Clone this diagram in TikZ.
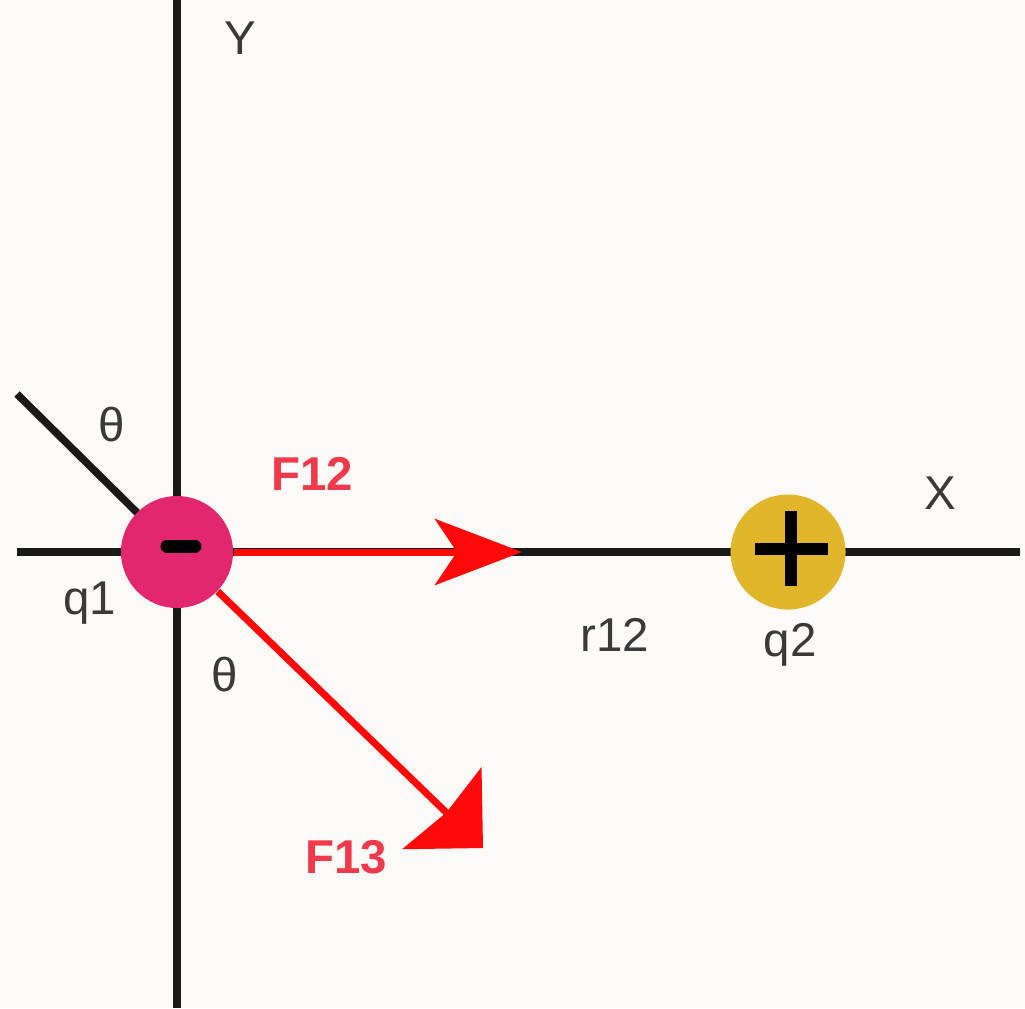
\documentclass[tikz,border=0pt]{standalone}
\usepackage{fontspec}
\setmainfont{Liberation Sans}
\usetikzlibrary{arrows.meta}
\definecolor{bgc}{HTML}{FDF9F7}
\definecolor{negc}{HTML}{E2276F}
\definecolor{posc}{HTML}{E1B62B}
\definecolor{forcec}{HTML}{FF0A0A}
\definecolor{labc}{HTML}{3A3A3A}
\definecolor{flabc}{HTML}{F0394A}
\tikzset{
  axis/.style={draw=black!90, line width=0.075cm},
  force/.style={draw=forcec, line width=0.07cm},
  charge/.style={circle, inner sep=0pt, minimum size=1.12cm},
  lab/.style={text=labc, font=\fontsize{13.5}{15}\selectfont, inner sep=0pt},
  flab/.style={text=flabc, font=\fontsize{13.5}{15}\selectfont\bfseries, inner sep=0pt},
  sign/.style={draw=black, line width=0.12cm}
}
\begin{document}
\begin{tikzpicture}[x=0.01cm,y=-0.01cm]
\fill[bgc] (0,0) rectangle (1025,1008);
\useasboundingbox (0,0) rectangle (1025,1008);
% axes
\coordinate (ytop) at (177,0);
\coordinate (ybot) at (177,1008);
\coordinate (xleft) at (17,552);
\coordinate (xright) at (1020,552);
\coordinate (dleft) at (17,394);
\coordinate (f12tip) at (522,552);
\coordinate (f13tip) at (483,848);
\draw[axis] (ytop) -- (ybot);
\draw[axis] (xleft) -- (xright);
\draw[axis] (dleft) -- (177,552);
% charges
\node[charge, fill=negc] (q1) at (177,552) {};
\node[charge, fill=posc, minimum size=1.15cm] (q2) at (788,552) {};
\draw[sign, line width=0.13cm, line cap=round] (167,546) -- (195,546);
\draw[sign] (755,549) -- (828,549);
\draw[sign] (791,511) -- (791,586);
% forces
\draw[force, -{Stealth[length=0.87cm,width=0.66cm,inset=0.22cm]}] (q1) -- (f12tip);
\draw[force, -{Stealth[length=0.57cm,width=1.13cm,inset=0.06cm]}] (q1) -- (f13tip);
% labels
\node[lab] (ylab) at (240,38) {Y};
\node[lab] (xlab) at (940,493) {X};
\node[lab] (th1) at (112,425) {θ};
\node[lab] (th2) at (225,675) {θ};
\node[lab] (q1lab) at (90,603) {q1};
\node[lab] (r12lab) at (615,635) {r12};
\node[lab] (q2lab) at (790,645) {q2};
\node[flab] (f12lab) at (312,474) {F12};
\node[flab] (f13lab) at (346,857) {F13};
\end{tikzpicture}
\end{document}
